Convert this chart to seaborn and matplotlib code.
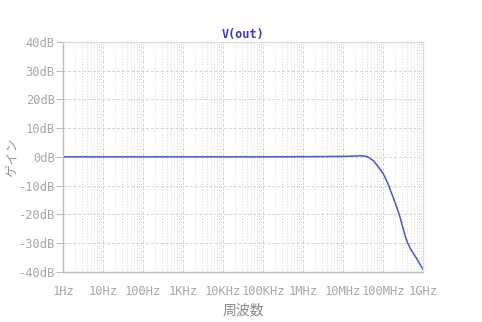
import matplotlib
matplotlib.use("Agg")
import matplotlib.pyplot as plt
import matplotlib.ticker as mticker
import seaborn as sns
import pandas as pd
import numpy as np

freq_hz = [1, 10, 100, 1e3, 1e4, 1e5, 1e6, 1e7, 2e7, 3e7, 4e7, 5.6e7, 7e7, 1e8, 1.3e8,
           1.78e8, 2.2e8, 2.66e8, 3.2e8, 3.7e8, 4.2e8, 5e8, 7e8, 1e9]
gain_db = [0, 0, 0, 0, 0, 0, 0.05, 0.15, 0.3, 0.35, 0.1, -1.2, -2.8, -5.7, -9.0,
           -14.0, -17.5, -21.0, -25.0, -28.2, -30.2, -32.3, -35.5, -39.2]
tick_freqs = [1, 10, 100, 1e3, 1e4, 1e5, 1e6, 1e7, 1e8, 1e9]
tick_labels = ["1Hz", "10Hz", "100Hz", "1KHz", "10KHz", "100KHz", "1MHz", "10MHz", "100MHz", "1GHz"]
y_ticks = [40, 30, 20, 10, 0, -10, -20, -30, -40]
y_labels = [f"{v}dB" for v in y_ticks]

sns.set_theme(style="white")
plt.rcParams['font.family'] = ['DejaVu Sans Mono', 'Noto Sans CJK JP']

df = pd.DataFrame({"freq": freq_hz, "gain": gain_db})

fig = plt.figure(figsize=(4.82, 3.22), dpi=100)
ax = fig.add_axes([63/482, 1-271.7/322, (423-63)/482, (271.7-42)/322])

sns.lineplot(data=df, x="freq", y="gain", ax=ax, color="#4a55d6", linewidth=1.1)
ax.set_xscale("log")
ax.set_xlim(1, 1e9)
ax.set_ylim(-40, 40)

ax.set_xticks(tick_freqs)
ax.set_xticklabels(tick_labels)
ax.xaxis.set_minor_locator(mticker.LogLocator(base=10, subs=np.arange(2, 10), numticks=100))
ax.xaxis.set_minor_formatter(mticker.NullFormatter())
ax.set_yticks(y_ticks)
ax.set_yticklabels(y_labels)

grey = "#a8a8a8"
ax.tick_params(axis="x", which="major", direction="inout", length=7, width=0.8, color="#bbbbbb",
               labelsize=8.7, labelcolor=grey, pad=6)
ax.tick_params(axis="x", which="minor", direction="in", length=4, width=0.6, color="#bbbbbb")
ax.tick_params(axis="y", which="major", direction="out", length=5, width=0.8, color="#bbbbbb",
               labelsize=8.7, labelcolor=grey, pad=1, left=True)

ax.grid(True, which="major", axis="both", color="#d4d4d4", linestyle=(0, (3, 2)), linewidth=0.7)
ax.grid(True, which="minor", axis="x", color="#d8d8d8", linestyle=(0, (1, 2)), linewidth=0.7)

for side in ["left", "bottom"]:
    ax.spines[side].set_color("#bbbbbb")
    ax.spines[side].set_linewidth(1.0)
for side in ["top", "right"]:
    ax.spines[side].set_color("#dddddd")
    ax.spines[side].set_linewidth(1.0)

ax.set_title("V(out)", color="#3a3ac8", fontsize=8.5, pad=3, fontweight="bold")
ax.set_xlabel("周波数", color="#888888", fontsize=10, family=['Noto Sans CJK JP'], labelpad=4)
ax.set_ylabel("ゲイン", color="#999999", fontsize=9.5, family=['Noto Sans CJK JP'], labelpad=0)

fig.savefig("out.png", dpi=100)
